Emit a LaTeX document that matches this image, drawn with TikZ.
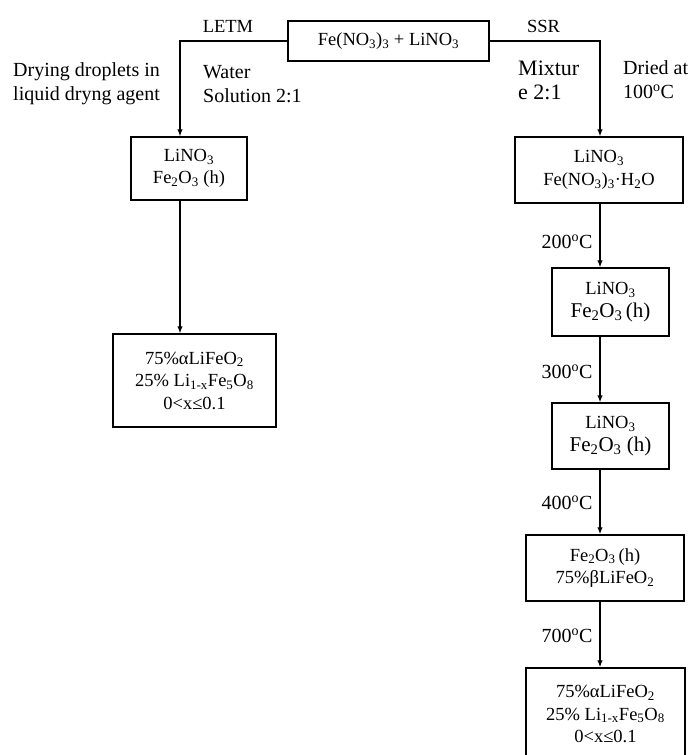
\documentclass[tikz,border=0pt]{standalone}
\usepackage{fontspec}
\setmainfont{Liberation Serif}
\usetikzlibrary{arrows.meta}
\newcommand{\dg}{\textsuperscript{o}C}
\begin{document}
\begin{tikzpicture}[x=1pt,y=-1pt,
  box/.style={draw, line width=1.4pt, inner sep=0pt, align=center, font=\fontsize{18.5}{22.5}\selectfont},
  conn/.style={line width=1.2pt},
  arr/.style={conn, -{Latex[length=7pt,width=5.5pt]}},
  thick arr/.style={arr, line width=2pt},
  lbl/.style={font=\fontsize{20}{24}\selectfont, inner sep=0pt},
  small lbl/.style={font=\fontsize{18.5}{22}\selectfont, inner sep=0pt}]
\useasboundingbox (0,0) rectangle (691,755);
\coordinate (lc) at (180,0);
\coordinate (rc) at (600,0);
% boxes
\node[box, minimum width=201pt, minimum height=40pt] (top) at (388.5,41)
  {\raisebox{-2pt}{Fe(NO\textsubscript{3})\textsubscript{3} + LiNO\textsubscript{3}}};
\node[box, minimum width=116pt, minimum height=63pt] (L1) at (189,168.5)
  {LiNO\textsubscript{3}\\Fe\textsubscript{2}O\textsubscript{3} (h)};
\node[box, minimum width=163pt, minimum height=93pt] (L2) at (194.5,380.5)
  {75\%αLiFeO\textsubscript{2}\\25\% Li\textsubscript{1-x}Fe\textsubscript{5}O\textsubscript{8}\\0<x≤0.1};
\node[box, minimum width=168pt, minimum height=66pt] (R1) at (599,170)
  {LiNO\textsubscript{3}\\Fe(NO\textsubscript{3})\textsubscript{3}·H\textsubscript{2}O};
\node[box, minimum width=117pt, minimum height=68pt] (R2) at (610.5,302)
  {LiNO\textsubscript{3}\\{\fontsize{21}{23}\selectfont Fe\textsubscript{2}O\textsubscript{3}\,(h)}};
\node[box, minimum width=117pt, minimum height=66pt] (R3) at (610.5,436)
  {LiNO\textsubscript{3}\\{\fontsize{21}{23}\selectfont Fe\textsubscript{2}O\textsubscript{3} (h)}};
\node[box, minimum width=158pt, minimum height=66pt] (R4) at (605,568)
  {Fe\textsubscript{2}O\textsubscript{3}\,(h)\\75\%βLiFeO\textsubscript{2}};
\node[box, minimum width=159pt, minimum height=92pt] (R5) at (605.5,714)
  {75\%αLiFeO\textsubscript{2}\\25\% Li\textsubscript{1-x}Fe\textsubscript{5}O\textsubscript{8}\\0<x≤0.1};
% labels
\node[small lbl] (letm) at (228,26) {LETM};
\node[small lbl] (ssr) at (543.5,26) {SSR};
\node[lbl, anchor=west, align=left] (dry) at (13,84) {Drying droplets in\\liquid dryng agent};
\node[lbl, anchor=west, align=left] (water) at (203,84) {Water\\Solution 2:1};
\node[font=\fontsize{22}{24}\selectfont, inner sep=0pt, anchor=west, align=left] (mix) at (518,80) {Mixtur\\e 2:1};
\node[lbl, anchor=west, align=left] (dried) at (623,80) {Dried at\\100\dg};
\node[lbl] (t200) at (567,242) {200\dg};
\node[lbl] (t300) at (567,372) {300\dg};
\node[lbl] (t400) at (567,503) {400\dg};
\node[lbl] (t700) at (567,636) {700\dg};
% connectors
\draw[arr] (top.west) -| (L1.north -| lc);
\draw[arr] (top.east) -| (R1.north -| rc);
\draw[arr] (L1.south -| lc) -- (L2.north -| lc);
\draw[arr] (R1.south -| rc) -- (R2.north -| rc);
\draw[arr] (R2.south -| rc) -- (R3.north -| rc);
\draw[thick arr] (R3.south -| rc) -- (R4.north -| rc);
\draw[thick arr] (R4.south -| rc) -- (R5.north -| rc);
\end{tikzpicture}
\end{document}
